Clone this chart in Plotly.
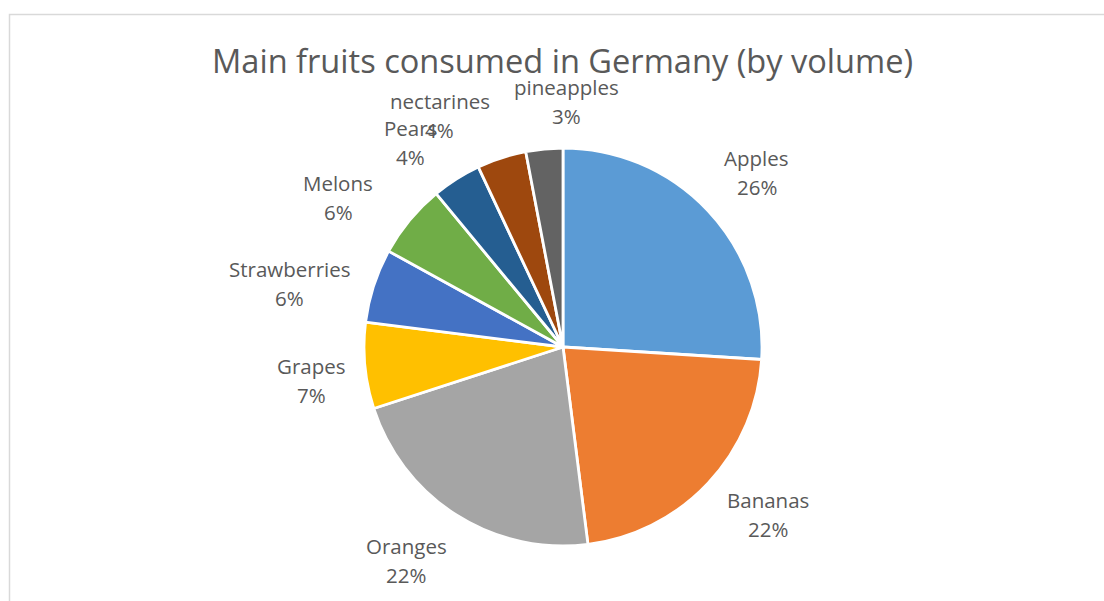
import math
import plotly.graph_objects as go

# Share of volume (%) for each fruit, clockwise from 12 o'clock
fruits = ["Apples", "Bananas", "Oranges", "Grapes", "Strawberries",
          "Melons", "Pears", "nectarines", "pineapples"]
shares = [26, 22, 22, 7, 6, 6, 4, 4, 3]
colors = ["#5B9BD5", "#ED7D31", "#A5A5A5", "#FFC000", "#4472C4",
          "#70AD47", "#255E91", "#9E480E", "#636363"]

W, H = 1104, 601
CX, CY, R = 563, 347, 199          # pie centre and radius in pixels

# label placement: distance from centre (px) and angular nudge (deg)
label_dist = [261, 265, 265, 254, 281, 270, 255, 262, 246]
label_turn = [1.1, -3.9, 3.9, -2.1, -4.9, -5.9, -4.2, -10.0, 6.3]
LINE_GAP = 14.5                    # half the spacing between name and percent

TEXT = "#595959"
FONT = "Open Sans"

fig = go.Figure(go.Pie(
    labels=fruits,
    values=shares,
    sort=False,
    direction="clockwise",
    rotation=0,
    marker=dict(colors=colors, line=dict(color="white", width=2.8)),
    textinfo="none",
    hoverinfo="label+percent",
    domain=dict(x=[(CX - R) / W, (CX + R) / W],
                y=[1 - (CY + R) / H, 1 - (CY - R) / H]),
    showlegend=False,
))

annotations = []
total = sum(shares)
cum = 0.0
for name, val, dist, turn in zip(fruits, shares, label_dist, label_turn):
    mid = (cum + val / 2) / total * 360 + turn
    cum += val
    a = math.radians(mid)
    px = CX + dist * math.sin(a)
    py = CY - dist * math.cos(a)
    pct = f"{round(val / total * 100)}%"
    for txt, shift in ((name, -LINE_GAP), (pct, LINE_GAP)):
        annotations.append(dict(
            x=px / W, y=1 - (py + shift) / H, xref="paper", yref="paper",
            text=txt, showarrow=False, xanchor="center", yanchor="middle",
            font=dict(family=FONT, size=20.5, color=TEXT),
        ))

annotations.append(dict(
    x=562.5 / W, y=1 - 60 / H, xref="paper", yref="paper",
    text="Main fruits consumed in Germany (by volume)", showarrow=False,
    xanchor="center", yanchor="middle",
    font=dict(family=FONT, size=32.6, color=TEXT),
))

fig.update_layout(
    width=W, height=H,
    margin=dict(l=0, r=0, t=0, b=0),
    paper_bgcolor="white",
    plot_bgcolor="white",
    annotations=annotations,
    shapes=[dict(type="rect", xref="paper", yref="paper",
                 x0=9.5 / W, x1=1.02, y0=-0.02, y1=1 - 14.5 / H,
                 line=dict(color="#D9D9D9", width=1.5), layer="below")],
)

fig.write_html("out.html")
